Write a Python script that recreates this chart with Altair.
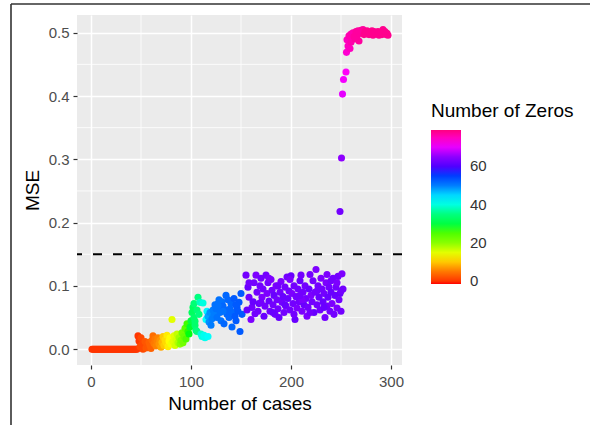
import altair as alt
import pandas as pd

# ---- data ----
# flat red run at MSE 0
flat_cases = [1, 2, 3, 4, 5, 6, 7, 8, 9, 10, 11, 12, 13, 14, 15, 16, 17, 18, 19, 20,
              21, 22, 23, 24, 25, 26, 27, 28, 29, 30, 31, 32, 33, 34, 35, 36, 37, 38, 39, 40,
              41, 42, 43, 44, 45, 46]
flat_mse = [0.0, 0.0, 0.0, 0.0, 0.0, 0.0, 0.0, 0.0, 0.0, 0.0, 0.0, 0.0, 0.0, 0.0, 0.0, 0.0,
            0.0, 0.0, 0.0, 0.0, 0.0, 0.0, 0.0, 0.0, 0.0, 0.0, 0.0, 0.0, 0.0, 0.0, 0.0, 0.0,
            0.0, 0.0, 0.0, 0.0, 0.0, 0.0, 0.0, 0.0, 0.0, 0.0, 0.0, 0.0, 0.0, 0.0]
flat_zeros = [0, 0, 0, 0, 0, 0, 0, 0, 0, 0, 0, 0, 0, 0, 0, 0, 0, 0, 0, 0, 0, 0, 0,
              0, 0, 0, 0, 0, 0, 0, 0, 0, 0, 0, 0, 0, 0, 0, 0, 0, 0, 0, 0, 0, 0, 0]

# red / orange / yellow run
low_cases = [47, 48, 49, 50, 51, 52, 53, 54, 55, 56, 57, 58, 59, 60, 61, 62, 63, 64, 65, 66,
             67, 68, 69, 70, 71, 72, 73, 74, 75, 76, 77, 78, 79, 80, 81, 82, 83, 84, 85, 86,
             87, 88, 89, 90, 91, 92, 93, 94, 95, 96, 97, 98, 99, 100]
low_mse = [0.021, 0.013, 0.004, 0.018, 0.008, 0.0, 0.005, 0.012, 0.002, 0.008,
           0.003, 0.011, 0.006, 0.001, 0.014, 0.021, 0.009, 0.016, 0.005, 0.012,
           0.018, 0.008, 0.014, 0.003, 0.011, 0.02, 0.006, 0.015, 0.01, 0.022,
           0.004, 0.013, 0.018, 0.008, 0.047, 0.012, 0.021, 0.006, 0.015, 0.024,
           0.01, 0.018, 0.008, 0.014, 0.026, 0.01, 0.02, 0.033, 0.016, 0.04,
           0.028, 0.024, 0.035, 0.045]
low_zeros = [0, 0, 1, 1, 1, 1, 1, 2, 2, 2, 2, 3, 3, 3,
             4, 4, 5, 5, 6, 6, 6, 7, 7, 8,
             9, 10, 10, 11, 11, 12, 12, 13, 13, 14, 15, 15, 15, 16, 16,
             17, 18, 19, 20, 21, 22, 22, 23, 24, 25,
             26, 27, 28, 29, 30]

# green / cyan run
mid_cases = [101, 102, 103, 104, 105, 106, 107, 108, 104, 103, 106,
             109, 110, 111, 112, 113, 114, 115, 116, 117]
mid_mse = [0.058, 0.066, 0.05, 0.038, 0.03, 0.062, 0.082, 0.055, 0.044, 0.072, 0.028,
           0.074, 0.024, 0.02, 0.073, 0.022, 0.018, 0.047, 0.06, 0.02]
mid_zeros = [32, 32, 33, 33, 34, 34, 35, 35, 33, 34, 35,
             38, 39, 40, 40, 41, 41, 42, 43, 42]

# blue cloud
blue_cases = [117, 118, 119, 120, 121, 122, 123, 124, 125, 126, 127, 128, 129, 130, 131,
              132, 133, 134, 135, 136, 137, 138, 139, 140, 141, 142, 143, 144, 145, 146,
              147, 148, 149, 150, 151, 127, 132, 128, 145]
blue_mse = [0.052, 0.043, 0.058, 0.038, 0.048, 0.062, 0.055, 0.07, 0.064, 0.05,
            0.072, 0.066, 0.058, 0.045, 0.075, 0.068, 0.04, 0.062, 0.085, 0.055,
            0.078, 0.05, 0.064, 0.072, 0.035, 0.058, 0.08, 0.052, 0.045, 0.066,
            0.06, 0.074, 0.028, 0.088, 0.055, 0.069, 0.06, 0.078, 0.07]
blue_zeros = [48, 49, 49, 50, 50, 50, 50, 51, 51, 51,
              51, 51, 51, 51, 51, 52, 52, 52, 52, 52,
              52, 52, 52, 52, 52, 52, 53, 53, 53, 53,
              53, 53, 53, 53, 53, 51, 51, 51, 53]

# purple cloud
purple_cases = [155, 157, 158, 160, 161, 162, 163, 165, 166, 167, 168,
                170, 171, 172, 173, 174, 175, 176, 177, 178, 179, 180, 181, 182, 183, 184,
                185, 186, 187, 188, 189, 190, 191, 192, 193, 194, 195, 196, 197, 198, 199,
                200, 201, 202, 203, 204, 205, 206, 207, 208, 209, 210, 211, 212, 213, 214,
                215, 216, 217, 218, 219, 220, 221, 222, 223, 224, 225, 226, 227, 228, 229,
                230, 231, 232, 233, 234, 235, 236, 237, 238, 239, 240, 241, 242, 243, 244,
                245, 246, 247, 248, 249, 250, 251, 252,
                156, 164, 169, 178, 187, 194, 203, 211, 219, 226, 233, 240, 246, 250,
                158, 182, 209, 236, 170, 199]
purple_mse = [0.117, 0.098, 0.082, 0.047, 0.066, 0.075, 0.105, 0.117, 0.09, 0.06, 0.072,
              0.112, 0.082, 0.095, 0.052, 0.068, 0.117, 0.088, 0.105, 0.076, 0.06, 0.11,
              0.093, 0.07, 0.085, 0.055, 0.1, 0.078, 0.064, 0.05, 0.09, 0.107, 0.074,
              0.083, 0.058, 0.098, 0.068, 0.114, 0.08, 0.092, 0.062, 0.116, 0.088, 0.072,
              0.1, 0.047, 0.083, 0.065, 0.095, 0.075, 0.108, 0.117, 0.06, 0.09, 0.07, 0.1,
              0.08, 0.052, 0.066, 0.095, 0.118, 0.085, 0.075, 0.108, 0.058, 0.09, 0.126,
              0.07, 0.1, 0.082, 0.062, 0.112, 0.095, 0.075, 0.088, 0.05, 0.105, 0.068,
              0.082, 0.098, 0.06, 0.09, 0.072, 0.112, 0.055, 0.085, 0.098, 0.065, 0.115,
              0.078, 0.088, 0.06, 0.119, 0.095,
              0.062, 0.056, 0.1, 0.112, 0.1, 0.07, 0.055, 0.078, 0.058, 0.092, 0.066,
              0.108, 0.105, 0.092,
              0.105, 0.058, 0.085, 0.118, 0.074, 0.11]
purple_zeros = [63, 62, 63, 64, 63, 62, 63, 64, 63, 63,
                62, 63, 64, 63, 62, 63, 63, 64, 63, 62,
                63, 64, 63, 63, 62, 63, 64, 63, 63, 62,
                63, 64, 63, 62, 63, 63, 64, 63, 62, 63,
                63, 62, 64, 63, 63, 62, 63, 64, 63, 63,
                62, 63, 64, 63, 62, 63, 63, 64, 63, 62,
                63, 64, 63, 63, 62, 63, 64, 63, 63, 62,
                63, 64, 63, 62, 63, 63, 64, 63, 62, 63,
                63, 62, 64, 63, 63, 62, 63, 64, 63, 63,
                62, 63, 64, 63, 62, 63, 63, 64, 63, 62,
                63, 64, 63, 63, 62, 63, 64, 63, 63, 62,
                63, 64, 63, 64]

# jump and pink plateau
top_cases = [249, 250.5, 251.5, 252.5, 255, 255.5, 256, 257, 259,
             258, 260, 261, 262, 263, 265, 266, 268, 269, 270,
             272, 273, 275, 276, 278, 279, 280, 282, 283, 285,
             286, 288, 289, 291, 292, 293, 295, 296, 297,
             260, 264, 267, 274, 277, 281, 284, 287, 290, 294]
top_mse = [0.2175, 0.302, 0.403, 0.426, 0.438, 0.469, 0.489, 0.479, 0.475,
           0.495, 0.498, 0.49, 0.5, 0.494, 0.502, 0.495, 0.487, 0.499, 0.504,
           0.505, 0.497, 0.5, 0.503, 0.497, 0.501, 0.5, 0.496, 0.502, 0.498,
           0.5, 0.496, 0.499, 0.497, 0.505, 0.5, 0.497, 0.499, 0.496,
           0.485, 0.49, 0.503, 0.502, 0.498, 0.503, 0.5, 0.502, 0.5, 0.502]
top_zeros = [63, 65, 70, 71, 72, 74, 75, 75, 75,
             76, 76, 76, 76, 77, 77, 77, 77, 77, 77,
             77, 78, 78, 78, 78, 78, 78, 78, 78, 78,
             78, 78, 78, 78, 78, 78, 78, 78, 78,
             76, 77, 77, 78, 78, 78, 78, 78, 78, 78]

x_ticks = [0, 100, 200, 300]
y_ticks = [0.0, 0.1, 0.2, 0.3, 0.4, 0.5]
x_minor = [50, 150, 250]
y_minor = [0.05, 0.15, 0.25, 0.35, 0.45]
threshold = [0.15]
legend_ticks = [0, 20, 40, 60]

rainbow = ["#FF0000", "#FF8000", "#FFFF00", "#80FF00", "#00FF00", "#00FF80",
           "#00FFFF", "#0080FF", "#0000FF", "#8000FF", "#FF00FF", "#FF0080"]

groups = [(flat_cases, flat_mse, flat_zeros), (low_cases, low_mse, low_zeros),
          (mid_cases, mid_mse, mid_zeros), (blue_cases, blue_mse, blue_zeros),
          (purple_cases, purple_mse, purple_zeros), (top_cases, top_mse, top_zeros)]
frames = [pd.DataFrame({"cases": c, "mse": m, "zeros": z}) for c, m, z in groups]
df = pd.concat(frames, ignore_index=True)

FONT = "Liberation Sans"
x_scale = alt.Scale(domain=[-14, 311], nice=False, zero=False)
y_scale = alt.Scale(domain=[-0.025, 0.528], nice=False, zero=False)
x_axis = alt.Axis(values=x_ticks, title="Number of cases", labelPadding=5, titlePadding=5)
y_axis = alt.Axis(values=y_ticks, format=".1f", title="MSE", labelPadding=4, titlePadding=6)

minor_x = alt.Chart(pd.DataFrame({"cases": x_minor})).mark_rule(
    color="white", strokeWidth=0.8).encode(
    x=alt.X("cases:Q", scale=x_scale, axis=x_axis))
minor_y = alt.Chart(pd.DataFrame({"mse": y_minor})).mark_rule(
    color="white", strokeWidth=0.8).encode(
    y=alt.Y("mse:Q", scale=y_scale, axis=y_axis))

points = alt.Chart(df).mark_circle(size=50, opacity=1).encode(
    x=alt.X("cases:Q", scale=x_scale, axis=x_axis),
    y=alt.Y("mse:Q", scale=y_scale, axis=y_axis),
    color=alt.Color("zeros:Q",
                    scale=alt.Scale(domain=[-1.5, 79], range=rainbow, nice=False, zero=False),
                    legend=alt.Legend(title="Number of Zeros", orient="none",
                                      legendX=354, legendY=87, direction="vertical",
                                      values=legend_ticks, gradientLength=154,
                                      gradientThickness=30, gradientStrokeWidth=0,
                                      labelOffset=9, padding=0, titlePadding=9,
                                      titleFontSize=19, titleFontWeight="normal",
                                      titleColor="black", titleFont=FONT,
                                      labelFontSize=15, labelColor="#333333",
                                      labelFont=FONT)),
)

dashed = alt.Chart(pd.DataFrame({"mse": threshold})).mark_rule(
    color="black", strokeWidth=2.2, strokeDash=[9, 11]).encode(
    y=alt.Y("mse:Q", scale=y_scale, axis=y_axis))

frame_df = pd.DataFrame({"k": [0]})
frame_left = alt.Chart(frame_df).mark_rule(color="#333333", strokeWidth=1.6).encode(
    x=alt.value(-66), y=alt.value(-11), y2=alt.value(410))
frame_top = alt.Chart(frame_df).mark_rule(color="#333333", strokeWidth=1.6).encode(
    x=alt.value(-66), x2=alt.value(513), y=alt.value(-11))

chart = alt.layer(minor_x, minor_y, points, dashed, frame_left, frame_top).properties(
    width=325, height=350,
    autosize=alt.AutoSizeParams(type="none"),
    padding={"left": 77, "top": 15, "right": 188, "bottom": 60},
    background="white",
).configure_view(fill="#EBEBEB", stroke=None).configure_axis(
    grid=True, gridColor="white", gridWidth=1.5, domain=False,
    tickColor="#333333", tickSize=4, tickWidth=1.2,
    labelColor="#4D4D4D", labelFontSize=15, labelFont=FONT,
    titleColor="black", titleFontSize=19, titleFontWeight="normal", titleFont=FONT,
).configure_text(font=FONT)

chart.save("out.html", embed_options={"renderer": "svg", "actions": False})
